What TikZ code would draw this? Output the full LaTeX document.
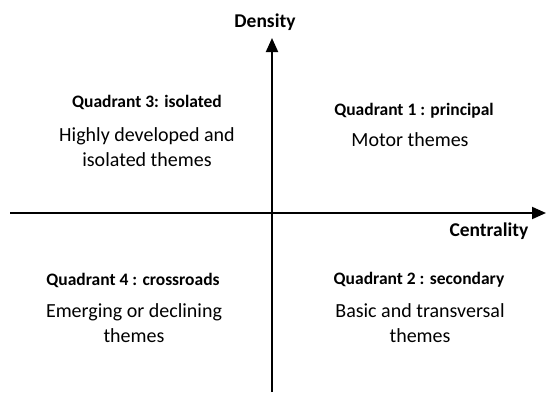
\documentclass[tikz,border=0pt]{standalone}
\usepackage{fontspec}
\setmainfont{Carlito}
\usetikzlibrary{arrows.meta}

\tikzset{
	axislabel/.style={font=\fontsize{19.5}{22}\selectfont\bfseries, inner sep=0pt},
	quadtitle/.style={font=\fontsize{17.5}{20}\selectfont\bfseries, inner sep=0pt},
	quadtext/.style={font=\fontsize{20}{25}\selectfont, align=center, inner sep=0pt}
}

\begin{document}
\begin{tikzpicture}[x=1pt, y=1pt, line width=2pt]
	\useasboundingbox (0,0) rectangle (546,392);
	\coordinate (west) at (10,179); \coordinate (east) at (546,179);
	\coordinate (south) at (272,0); \coordinate (north) at (272,354);
	\draw[-{Triangle[length=14pt, width=12pt]}] (west) -- (east);
	\draw[-{Triangle[length=14pt, width=12pt]}] (south) -- (north);
	\node[axislabel] (density) at (265,370) {Density};
	\node[axislabel] (centrality) at (489,161) {Centrality};
	% quadrants
	\node[quadtitle] (q3title) at (147,290) {Quadrant 3: isolated};
	\node[quadtext] (q3text) at (147,244.5) {Highly developed and\\isolated themes};
	\node[quadtitle] (q1title) at (414,281) {Quadrant 1 : principal};
	\node[quadtext] (q1text) at (410,252) {Motor themes};
	\node[quadtitle] (q4title) at (133,112) {Quadrant 4 : crossroads};
	\node[quadtext] (q4text) at (134,68.5) {Emerging or declining\\themes};
	\node[quadtitle] (q2title) at (419,112) {Quadrant 2 : secondary};
	\node[quadtext] (q2text) at (420,68.5) {Basic and transversal\\themes};
\end{tikzpicture}
\end{document}
